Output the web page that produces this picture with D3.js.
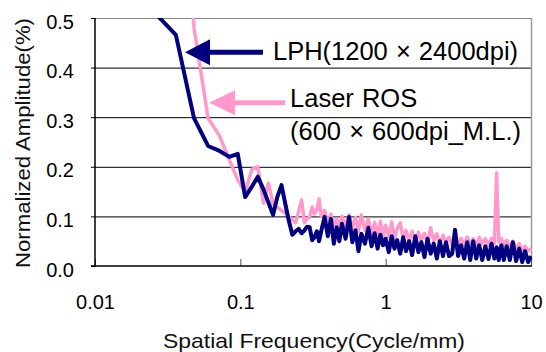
<!DOCTYPE html>
<html>
  <head>
    <meta charset="utf-8">
    <style>
      body { margin: 0; background: #fff; }
      svg { display: block; }
      text { font-family: "Liberation Sans", Arial, sans-serif; fill: #000; }
    </style>
  </head>
  <body>
    <script src="https://d3js.org/d3.v7.min.js"></script>
    <script>
      // low-frequency part (one point per bin)
      const lowFreq = [0.024,0.036,0.048,0.060,0.072,0.084,0.096,0.108,0.120,0.132,0.144,0.156,0.168,0.180,
        0.192,0.204,0.216,0.228,0.240,0.252,0.264,0.276,0.288,0.300,0.312,0.324,0.336,0.348]
      // high-frequency part
      const hiFreq = [0.36,0.38,0.40,0.42,0.44,0.46,0.48,0.50,0.53,0.56,0.59,0.62,0.65,0.68,
        0.72,0.76,0.80,0.84,0.88,0.92,0.96,1.0,1.05,1.1,1.15,1.2,
        1.26,1.32,1.38,1.45,1.52,1.6,1.68,1.76,1.85,1.94,
        2.04,2.14,2.25,2.36,2.48,2.6,2.73,2.87,3.0,3.15,3.3,3.47,3.64,3.82,
        4.0,4.2,4.4,4.62,4.85,5.1,5.35,5.6,5.8,6.0,6.25,6.5,6.8,
        7.15,7.5,7.9,8.3,8.7,9.1,9.55,10.0]

      const lphLow = [0.52,0.466,0.298,0.242,0.232,0.220,0.226,0.139,0.160,0.180,0.155,0.128,0.103,0.140,
        0.163,0.125,0.090,0.063,0.070,0.075,0.066,0.072,0.079,0.078,0.052,0.058,0.070,0.050]
      const lphHi = [0.070,0.099,0.060,0.095,0.045,0.078,0.050,0.085,
        0.055,0.099,0.048,0.072,0.030,0.065,
        0.045,0.077,0.040,0.066,0.035,0.063,0.042,0.055,
        0.028,0.060,0.035,0.052,
        0.025,0.058,0.030,0.050,0.022,0.060,0.028,0.048,0.018,0.055,
        0.025,0.045,0.015,0.050,0.020,0.048,0.020,0.025,0.073,0.020,0.042,0.015,0.048,0.012,
        0.050,0.015,0.042,0.012,0.040,0.014,0.045,0.015,0.038,0.012,0.042,0.012,0.040,
        0.012,0.048,0.010,0.035,0.008,0.030,0.008,0.020]

      const rosLow = [0.95,0.95,0.48,0.298,0.262,0.214,0.173,0.149,0.195,0.200,0.127,0.167,0.125,0.118,
        0.112,0.107,0.099,0.093,0.087,0.110,0.133,0.087,0.095,0.099,0.119,0.105,0.113,0.135]
      const rosHi = [0.100,0.112,0.085,0.105,0.080,0.095,0.078,0.100,
        0.082,0.103,0.075,0.098,0.070,0.103,
        0.072,0.095,0.065,0.088,0.062,0.090,0.060,0.082,
        0.058,0.089,0.055,0.075,
        0.087,0.055,0.072,0.050,0.070,0.048,0.068,0.052,0.066,0.045,
        0.077,0.050,0.065,0.045,0.062,0.048,0.058,0.042,0.060,0.045,0.056,0.042,0.058,0.044,
        0.055,0.042,0.058,0.045,0.055,0.042,0.056,0.045,0.188,0.048,0.056,0.040,0.052,
        0.038,0.050,0.035,0.045,0.032,0.040,0.030,0.035]

      const xTicks = [0.01, 0.1, 1, 10]
      const yTicks = [0, 0.1, 0.2, 0.3, 0.4, 0.5]

      const w = 546
      const h = 352
      const plotL = 95, plotR = 531, plotT = 18, plotB = 266

      const svg = d3.select("body").append("svg")
        .attr("width", w)
        .attr("height", h)

      const xScale = d3.scaleLog().domain([0.01, 10]).range([plotL, plotR])
      const yScale = d3.scaleLinear().domain([0, 0.5]).range([plotB, plotT])

      const freq = lowFreq.concat(hiFreq)
      const lphAll = lphLow.concat(lphHi)
      const rosAll = rosLow.concat(rosHi)
      const lph = freq.map((f, i) => [f, lphAll[i]])
      const ros = freq.map((f, i) => [f, rosAll[i]])

      // frame + grid
      svg.append("g")
        .selectAll("line")
        .data(yTicks.filter(d => d > 0 && d < 0.5))
        .enter().append("line")
          .attr("x1", plotL).attr("x2", plotR)
          .attr("y1", d => yScale(d) + 0.5).attr("y2", d => yScale(d) + 0.5)
          .attr("stroke", "#000").attr("stroke-width", 1)
      svg.append("line")
        .attr("x1", plotL).attr("x2", plotR)
        .attr("y1", yScale(0.5) + 0.5).attr("y2", yScale(0.5) + 0.5)
        .attr("stroke", "#888").attr("stroke-width", 1)
      svg.append("line")
        .attr("x1", plotR + 0.5).attr("x2", plotR + 0.5)
        .attr("y1", plotT).attr("y2", plotB)
        .attr("stroke", "#999").attr("stroke-width", 1.5)

      // x axis
      const xAxis = d3.axisBottom(xScale)
        .tickValues(xTicks)
        .tickSizeInner(-7)
        .tickSizeOuter(0)
        .tickFormat(d => String(d))
      const gx = svg.append("g")
        .attr("transform", "translate(0," + plotB + ")")
        .call(xAxis)
      gx.select(".domain").remove()
      gx.selectAll(".tick line").attr("stroke", "#555")
      gx.selectAll(".tick text")
        .attr("y", 43).attr("dy", 0)
        .style("font-size", "20px")
        .style("font-family", "'Liberation Sans', Arial, sans-serif")
        .attr("fill", "#000")

      // y axis
      const yAxis = d3.axisLeft(yScale)
        .tickValues(yTicks)
        .tickSize(4)
        .tickPadding(17)
        .tickFormat(d3.format(".1f"))
      const gy = svg.append("g")
        .attr("transform", "translate(" + plotL + ",0)")
        .call(yAxis)
      gy.select(".domain").remove()
      gy.selectAll(".tick line").attr("stroke", "#000")
      gy.selectAll(".tick text")
        .attr("dy", "0.5em")
        .style("font-size", "20px")
        .style("font-family", "'Liberation Sans', Arial, sans-serif")
        .attr("fill", "#000")

      svg.append("line")
        .attr("x1", plotL).attr("x2", plotL)
        .attr("y1", plotT).attr("y2", plotB + 0.75)
        .attr("stroke", "#000").attr("stroke-width", 1.5)
      svg.append("line")
        .attr("x1", plotL - 4).attr("x2", plotR + 1)
        .attr("y1", plotB).attr("y2", plotB)
        .attr("stroke", "#000").attr("stroke-width", 1.5)

      // series
      svg.append("clipPath").attr("id", "plot")
        .append("rect")
          .attr("x", plotL).attr("y", plotT)
          .attr("width", plotR - plotL + 1).attr("height", plotB - plotT)

      const line = d3.line()
        .x(d => xScale(d[0]))
        .y(d => yScale(d[1]))

      svg.append("path")
        .datum(ros)
        .attr("clip-path", "url(#plot)")
        .attr("d", line)
        .attr("fill", "none")
        .attr("stroke", "#ff99cc")
        .attr("stroke-width", 3.5)
        .attr("stroke-linejoin", "round")

      svg.append("path")
        .datum(lph)
        .attr("clip-path", "url(#plot)")
        .attr("d", line)
        .attr("fill", "none")
        .attr("stroke", "#000080")
        .attr("stroke-width", 4)
        .attr("stroke-linejoin", "round")

      // annotations (arrow tips given in data units)
      const notes = [
        {tip: [0.0416, 0.431], color: "#000080", head: 25, half: 13, len: 78, lines: ["LPH(1200 × 2400dpi)"], tx: 88, ty: [7.5]},
        {tip: [0.0609, 0.329], color: "#ff99cc", head: 26, half: 12.5, len: 76, lines: ["Laser ROS", "(600 × 600dpi_M.L.)"], tx: 81, ty: [4, 37]}
      ]
      notes.forEach(n => {
        const x0 = xScale(n.tip[0]), y0 = yScale(n.tip[1])
        svg.append("line")
          .attr("x1", x0 + n.head - 2).attr("x2", x0 + n.len)
          .attr("y1", y0).attr("y2", y0)
          .attr("stroke", n.color).attr("stroke-width", 5)
        svg.append("polygon")
          .attr("points", [[x0, y0], [x0 + n.head, y0 - n.half], [x0 + n.head, y0 + n.half]].join(" "))
          .attr("fill", n.color)
        n.lines.forEach((t, i) => {
          svg.append("text")
            .attr("x", x0 + n.tx)
            .attr("y", y0 + n.ty[i])
            .style("font-size", "25.5px")
            .style("word-spacing", "1px")
            .text(t)
        })
      })

      // axis titles
      svg.append("text")
        .attr("x", 163).attr("y", 348)
        .attr("textLength", 302).attr("lengthAdjust", "spacingAndGlyphs")
        .style("font-size", "21px")
        .style("fill", "#111")
        .text("Spatial Frequency(Cycle/mm)")
      svg.append("text")
        .attr("transform", "translate(30,268) rotate(-90)")
        .attr("textLength", 250).attr("lengthAdjust", "spacingAndGlyphs")
        .style("font-size", "21px")
        .style("fill", "#111")
        .text("Normalized Amplitude(%)")
    </script>
  </body>
</html>
